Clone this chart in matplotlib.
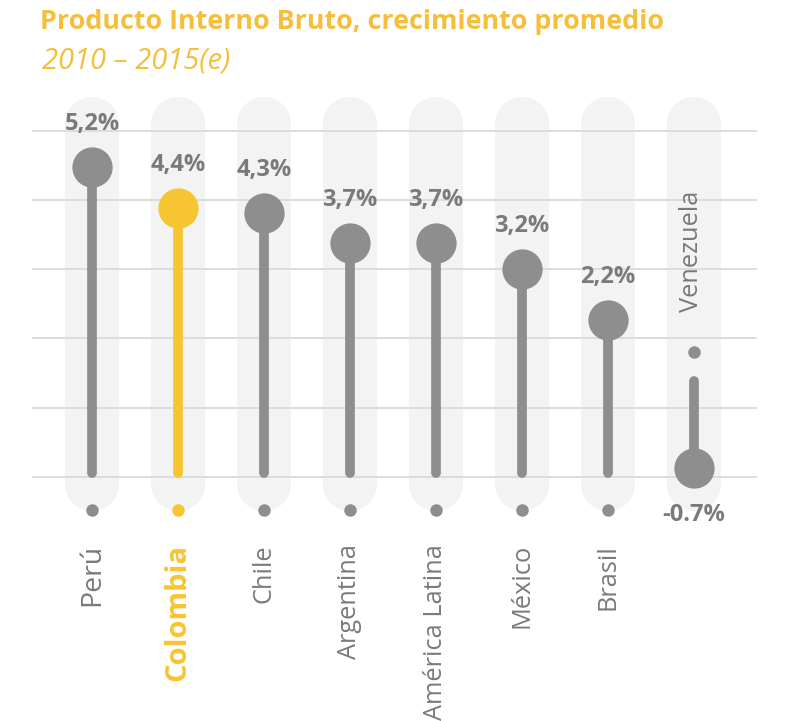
import matplotlib
matplotlib.use("Agg")
import matplotlib.pyplot as plt

# data
countries = ['Perú', 'Colombia', 'Chile', 'Argentina', 'América Latina',
             'México', 'Brasil', 'Venezuela']
growth = [5.2, 4.4, 4.3, 3.7, 3.7, 3.2, 2.2, -0.7]
value_labels = ['5,2%', '4,4%', '4,3%', '3,7%', '3,7%', '3,2%', '2,2%', '-0.7%']
highlight = 'Colombia'

GRAY = '#8e8e8e'
TEXT_GRAY = '#7a7a7a'
YELLOW = '#f7c531'
TITLE = '#f6be3a'
PILL = '#f3f3f3'
GRID = '#dcdcdc'

plt.rcParams['font.family'] = ['Open Sans', 'DejaVu Sans']

W, H = 785, 721
fig = plt.figure(figsize=(W / 100, H / 100), dpi=100)
ax = fig.add_axes([0, 0, 1, 1])

# pixel layout: category i at x = 92 + 86*i, value v at y = 432 - 51*v
ax.set_xlim(-92 / 86, (W - 92) / 86)
ax.set_ylim((432 - H) / 51, 432 / 51)
ax.axis('off')

n = len(countries)

# background pills
for i in range(n):
    ax.plot([i, i], [-1.02, 6.04], color=PILL, lw=39, solid_capstyle='round', zorder=0)

# gridlines
for gy in [5.90, 4.55, 3.20, 1.84, 0.47, -0.88]:
    ax.plot([-0.686, 7.72], [gy, gy], color=GRID, lw=1.4, zorder=1)

# lollipops
for i, (name, v, lab) in enumerate(zip(countries, growth, value_labels)):
    c = YELLOW if name == highlight else GRAY
    if v >= 0:
        base, base_dot = -0.8, -1.53
    else:
        base, base_dot = 1.0, 1.57
    ax.plot([i, i], [base, v], color=c, lw=7, solid_capstyle='round', zorder=2)
    ax.plot(i, v, 'o', color=c, ms=29, mec='none', zorder=3)
    ax.plot(i, base_dot, 'o', color=c, ms=9, mec='none', zorder=3)

    off = 31 if v >= 0 else -34
    ax.annotate(lab, (i, v), xytext=(0, off), textcoords='offset points',
                ha='center', va='center', fontsize=17, fontweight='bold',
                color=TEXT_GRAY, zorder=4)

    if v >= 0:
        if name == highlight:
            fs, fw, fc = 21, 'bold', YELLOW
        elif name == 'Perú':
            fs, fw, fc = 20.5, 'normal', TEXT_GRAY
        else:
            fs, fw, fc = 18.3, 'normal', TEXT_GRAY
        ax.text(i, (432 - 544) / 51, name, rotation=90, ha='center', va='top',
                fontsize=fs, fontweight=fw, color=fc)
    else:
        ax.text(i - 0.03, (432 - 191) / 51, name, rotation=90, ha='center', va='top',
                fontsize=18.3, color=TEXT_GRAY)

# title
fig.text(40 / W, 1 - 22 / H, 'Producto Interno Bruto, crecimiento promedio',
         ha='left', va='center', fontsize=19.4, fontweight='bold', color=TITLE)
fig.text(42 / W, 1 - 61 / H, '2010 – 2015(e)', ha='left', va='center',
         fontsize=21, style='italic', color=TITLE)

fig.savefig('out.png', dpi=100, facecolor='white')
